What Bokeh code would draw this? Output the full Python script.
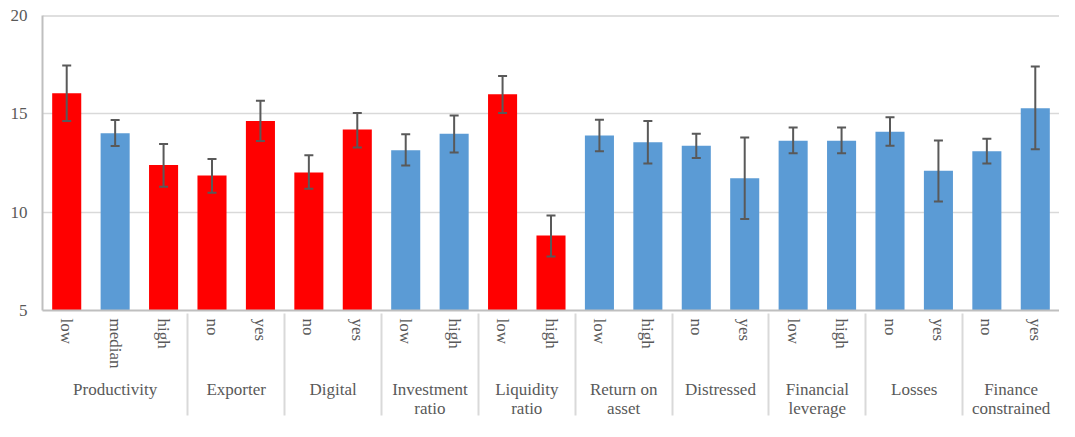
from bokeh.plotting import figure
from bokeh.models import FactorRange, ColumnDataSource, Whisker, TeeHead, Span, FixedTicker, BoxAnnotation
from bokeh.embed import file_html
from bokeh.resources import INLINE

groups = ["Productivity", "Productivity", "Productivity", "Exporter", "Exporter",
          "Digital", "Digital", "Investment\nratio", "Investment\nratio",
          "Liquidity\nratio", "Liquidity\nratio", "Return on\nasset", "Return on\nasset",
          "Distressed", "Distressed", "Financial\nleverage", "Financial\nleverage",
          "Losses", "Losses", "Finance\nconstrained", "Finance\nconstrained"]
subs = ["low", "median", "high", "no", "yes", "no", "yes", "low", "high",
        "low", "high", "low", "high", "no", "yes", "low", "high", "no", "yes", "no", "yes"]
values = [16.05, 14.01, 12.40, 11.87, 14.64, 12.02, 14.20, 13.15, 13.99,
          16.00, 8.81, 13.90, 13.56, 13.38, 11.72, 13.63, 13.63, 14.09, 12.10, 13.10, 15.29]
upper = [17.46, 14.69, 13.46, 12.70, 15.66, 12.89, 15.04, 13.96, 14.92,
         16.92, 9.83, 14.70, 14.64, 13.99, 13.80, 14.30, 14.30, 14.82, 13.65, 13.73, 17.41]
lower = [14.64, 13.36, 11.29, 10.99, 13.62, 11.19, 13.29, 12.37, 13.04,
         15.04, 7.75, 13.10, 12.47, 12.76, 9.65, 12.99, 12.99, 13.38, 10.54, 12.47, 13.20]
significant = [True, False, True, True, True, True, True, False, False,
               True, True, False, False, False, False, False, False, False, False, False, False]

RED = "#FF0000"
BLUE = "#5B9BD5"
colors = [RED if s else BLUE for s in significant]
factors = list(zip(groups, subs))

src = ColumnDataSource(dict(x=factors, top=values, upper=upper, lower=lower, color=colors))

W, H = 1059, 421
p = figure(width=W, height=H, output_backend="svg", toolbar_location=None,
           x_range=FactorRange(*factors, group_padding=0, factor_padding=0, range_padding=0),
           y_range=(5, 20), min_border_left=42, min_border_top=15, min_border_right=0,
           min_border_bottom=0)

p.vbar(x="x", top="top", bottom=5, width=0.6, color="color", source=src, line_color=None)

head = dict(size=9, line_color="#595959", line_width=2)
p.add_layout(Whisker(source=src, base="x", upper="upper", lower="lower",
                     line_color="#595959", line_width=2, level="overlay",
                     upper_head=TeeHead(**head), lower_head=TeeHead(**head)))

p.add_layout(Span(location=20, dimension="width", line_color="#BFBFBF", line_width=2))

# left edge line continuing through the category label area
p.add_layout(BoxAnnotation(left=41, right=43, top=300, bottom=H,
                           left_units="screen", right_units="screen",
                           top_units="screen", bottom_units="screen",
                           fill_color="#D9D9D9", fill_alpha=1, line_color=None,
                           level="underlay"))

p.outline_line_color = None
p.background_fill_color = "white"
p.border_fill_color = "white"

FONT = "Liberation Serif"
TXT = "#595959"

p.yaxis.ticker = FixedTicker(ticks=[5, 10, 15, 20])
p.yaxis.major_tick_line_color = None
p.yaxis.minor_tick_line_color = None
p.yaxis.major_tick_out = 0
p.yaxis.major_tick_in = 0
p.yaxis.minor_tick_out = 0
p.yaxis.axis_line_color = "#BFBFBF"
p.yaxis.axis_line_width = 2
p.yaxis.major_label_text_font = FONT
p.yaxis.major_label_text_font_size = "17px"
p.yaxis.major_label_text_color = TXT
p.yaxis.major_label_standoff = 15

p.ygrid.grid_line_color = "#D9D9D9"
p.ygrid.grid_line_width = 1.5
p.xgrid.grid_line_color = None

xa = p.xaxis[0]
xa.axis_line_color = "#BFBFBF"
xa.axis_line_width = 2
xa.major_tick_line_color = None
xa.minor_tick_line_color = None
xa.major_tick_out = 0
xa.major_tick_in = 0
xa.major_label_orientation = "vertical"
xa.major_label_text_font = FONT
xa.major_label_text_font_size = "17px"
xa.major_label_text_color = TXT
xa.major_label_standoff = 8
xa.group_text_font = FONT
xa.group_text_font_size = "17px"
xa.group_text_color = TXT
xa.group_text_font_style = "normal"
xa.group_text_line_height = 1.05
xa.separator_line_color = "#D9D9D9"
xa.separator_line_width = 2

open("out.html", "w").write(file_html(p, INLINE))
